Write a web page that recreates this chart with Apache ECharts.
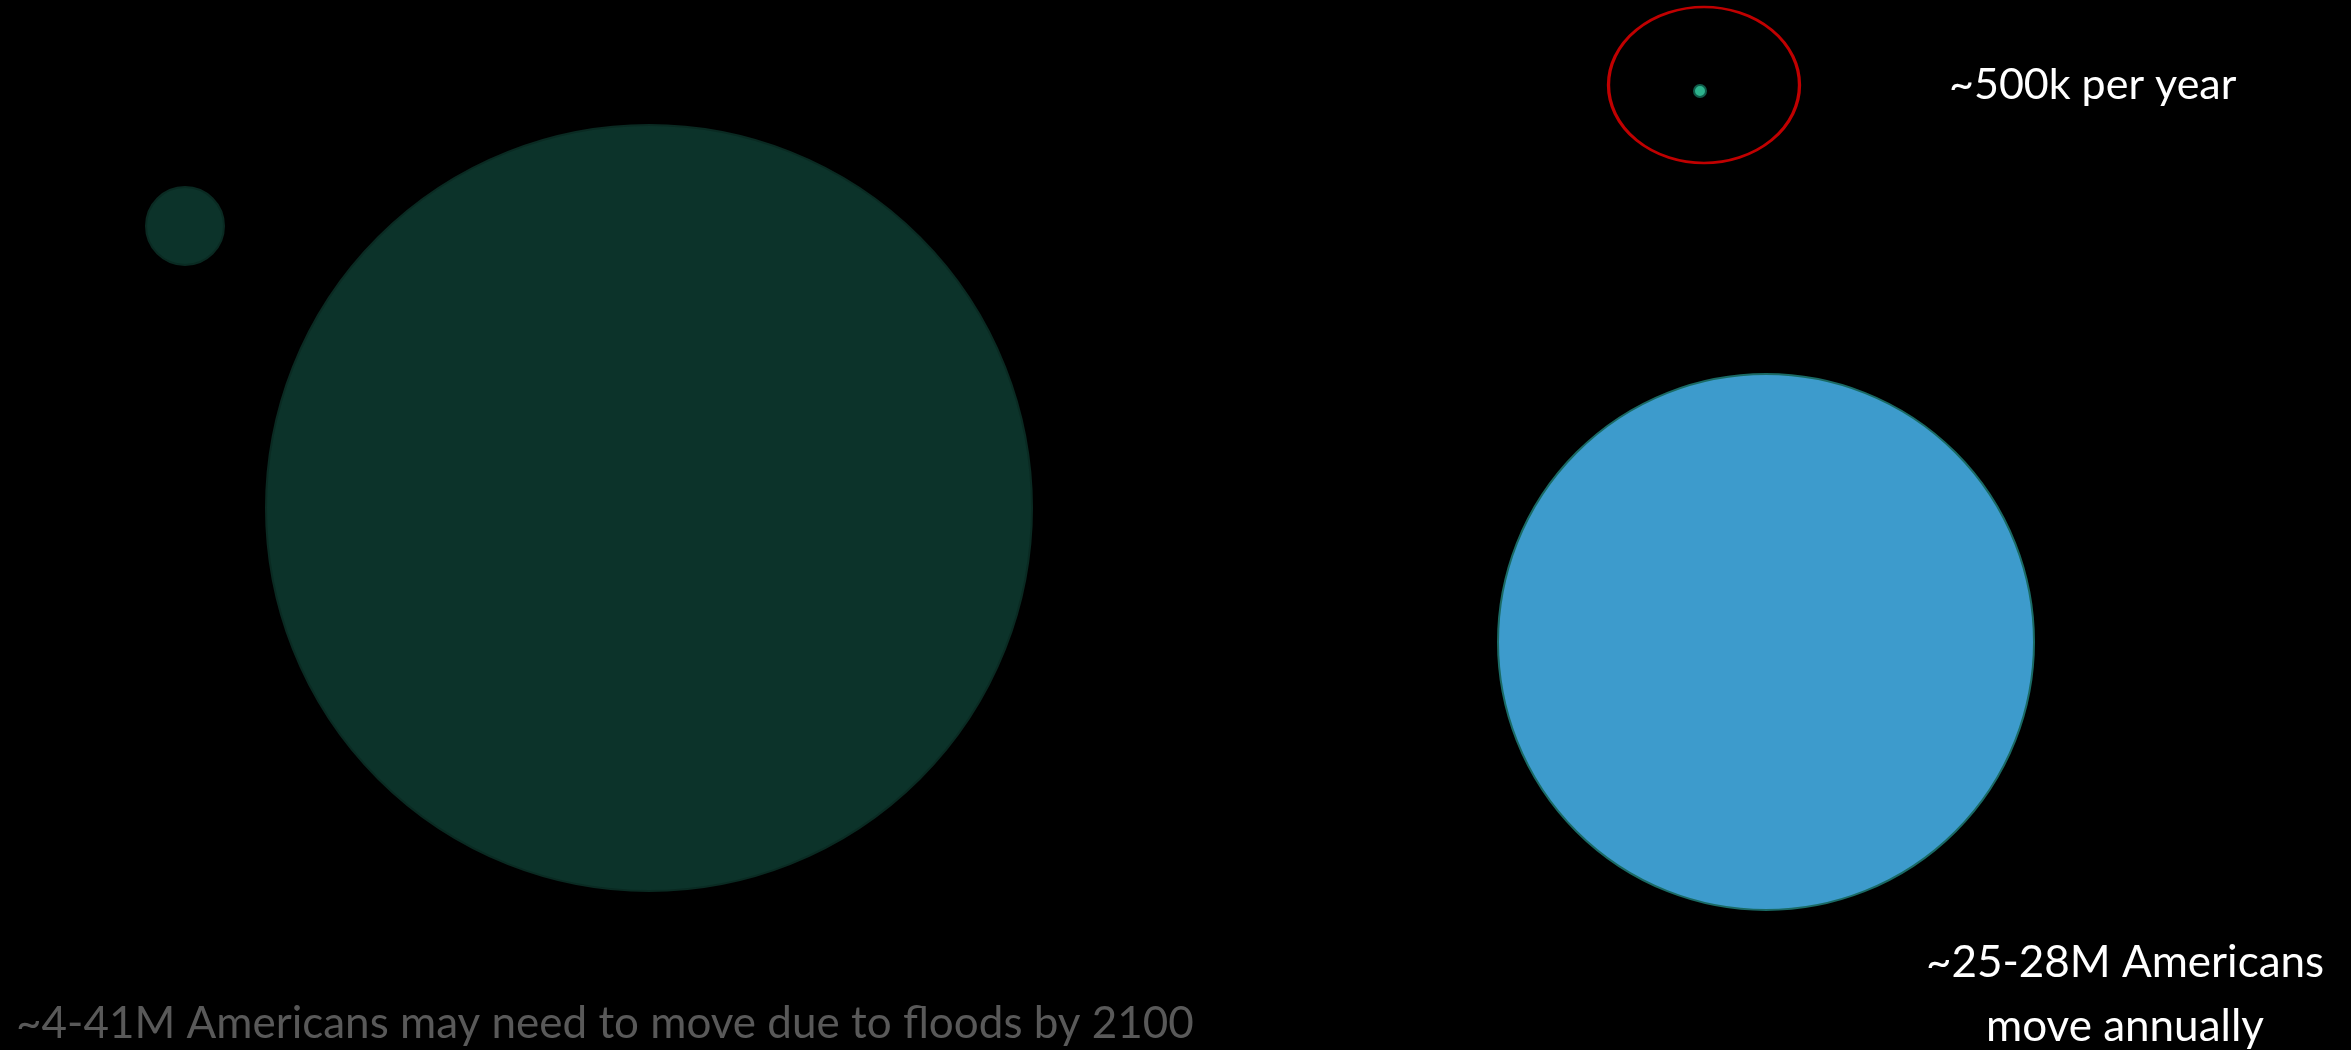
<!DOCTYPE html>
<html>
<head>
<meta charset="utf-8">
<script src="https://cdn.jsdelivr.net/npm/echarts@6/dist/echarts.min.js"></script>
<style>
  html, body { margin:0; padding:0; background:#000; }
  #chart { width:2351px; height:1050px; }
</style>
</head>
<body>
<div id="chart"></div>
<script>
// bubbles: name, x, y (page units), diameter
var bubbleNames = ['small', 'floods', 'dot', 'movers'];
var bubbleX = [185, 649, 1700, 1766];
var bubbleY = [226, 508, 91, 642];
var bubbleSize = [78, 766, 12, 536];
var bubbleFill = ['#0c332a', '#0c332a', '#2db38d', '#3d9bcc'];
var bubbleBorder = ['#0a2a22', '#0a2a22', '#0f5c4a', '#1a6a64'];

// highlight ring round the dot
var ringX = [1704];
var ringY = [85];
var ringSize = [[191, 156]];

var chart = echarts.init(document.getElementById('chart'));

var bubbleData = bubbleNames.map(function (n, i) {
	return {
		name: n,
		value: [bubbleX[i], bubbleY[i]],
		symbolSize: bubbleSize[i],
		itemStyle: { color: bubbleFill[i], borderColor: bubbleBorder[i], borderWidth: 2, opacity: 1 }
	};
});

var ringData = ringX.map(function (x, i) {
	return { value: [x, ringY[i]], symbolSize: ringSize[i] };
});

chart.setOption({
	backgroundColor: '#000',
	animation: false,
	grid: { left: 0, right: 0, top: 0, bottom: 0 },
	xAxis: { type: 'value', min: 0, max: 2351, show: false },
	yAxis: { type: 'value', min: 0, max: 1050, inverse: true, show: false },
	title: [
		{
			text: '~500k per year',
			left: 1944, top: 59,
			textStyle: { color: '#fff', fontSize: 43, fontWeight: 'normal', fontFamily: 'Lato' }
		},
		{
			text: '~25-28M Americans\nmove annually',
			left: 2120, top: 926, textAlign: 'center',
			textStyle: { color: '#fff', fontSize: 44, fontWeight: 'normal', fontFamily: 'Lato', lineHeight: 64 }
		},
		{
			text: '~4-41M Americans may need to move due to floods by 2100',
			left: 11, top: 997,
			textStyle: { color: '#595959', fontSize: 44, fontWeight: 'normal', fontFamily: 'Lato' }
		}
	],
	series: [
		{
			type: 'scatter',
			symbol: 'circle',
			data: bubbleData,
			silent: true
		},
		{
			type: 'scatter',
			symbol: 'circle',
			data: ringData,
			itemStyle: { color: 'rgba(0,0,0,0)', borderColor: '#c00000', borderWidth: 3, opacity: 1 },
			silent: true
		}
	]
});
</script>
</body>
</html>
